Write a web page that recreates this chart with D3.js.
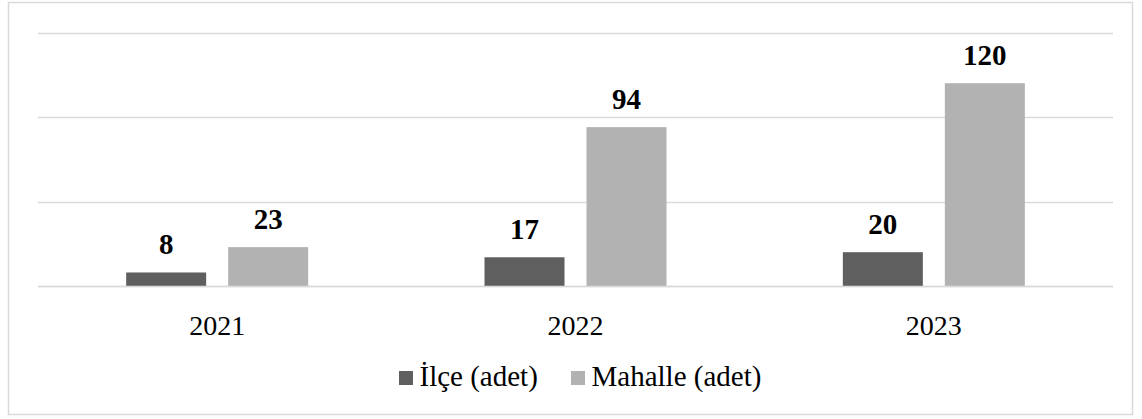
<!DOCTYPE html>
<html><head><meta charset="utf-8">
<script src="https://cdn.jsdelivr.net/npm/d3@7"></script>
<style>html,body{margin:0;padding:0;background:#fff;}svg{display:block;}
svg text{font-family:"Liberation Serif","Times New Roman",serif !important;}</style>
</head><body>
<script>
const years = ["2021", "2022", "2023"];
const seriesNames = ["İlçe (adet)", "Mahalle (adet)"];
const ilce = [8, 17, 20];
const mahalle = [23, 94, 120];
const yTicks = [0, 50, 100, 150];
const colors = ["#5f5f5f", "#b2b2b2"];

const W = 1142, H = 419;
const svg = d3.select("body").append("svg").attr("width", W).attr("height", H);

svg.append("rect").attr("x", 8.5).attr("y", 2.5).attr("width", 1124).attr("height", 412)
  .attr("fill", "#fff").attr("stroke", "#d9d9d9").attr("stroke-width", 1.5);

const left = 38, right = 1113;
const y = d3.scaleLinear().domain([0, 150]).range([286, 32.5]);
const x0 = d3.scaleBand().domain(years).range([left, right]).padding(0);
const x1 = d3.scaleBand().domain(seriesNames).range([0, 182]).paddingInner(0.2157).paddingOuter(0);

svg.append("g").selectAll("line").data(yTicks).join("line")
  .attr("x1", left).attr("x2", right)
  .attr("y1", d => Math.round(y(d)) + 0.5).attr("y2", d => Math.round(y(d)) + 0.5)
  .attr("stroke", "#d9d9d9").attr("stroke-width", 1.5);

const data = years.map((yr, i) => ({ year: yr, vals: [ilce[i], mahalle[i]] }));
const groups = svg.append("g").selectAll("g").data(data).join("g")
  .attr("transform", d => `translate(${x0(d.year) + x0.bandwidth() / 2 - 91},0)`);

groups.selectAll("rect").data(d => d.vals.map((v, k) => ({ v, k }))).join("rect")
  .attr("x", d => x1(seriesNames[d.k]))
  .attr("width", x1.bandwidth())
  .attr("y", d => y(d.v))
  .attr("height", d => y(0) - y(d.v))
  .attr("fill", d => colors[d.k]);

groups.selectAll("text").data(d => d.vals.map((v, k) => ({ v, k }))).join("text")
  .attr("x", d => x1(seriesNames[d.k]) + x1.bandwidth() / 2)
  .attr("y", d => y(d.v) - 18)
  .attr("text-anchor", "middle")
  .style("font-weight", "bold").style("font-size", "29px").attr("fill", "#000")
  .text(d => d.v);

svg.append("line").attr("x1", left).attr("x2", right).attr("y1", 286.5).attr("y2", 286.5)
  .attr("stroke", "#d9d9d9").attr("stroke-width", 1.5);

const xAxis = d3.axisBottom(x0).tickSize(0).tickPadding(0);
const gx = svg.append("g").attr("transform", "translate(0,286)").call(xAxis);
gx.select(".domain").remove();
gx.selectAll("text").style("font-size", "28px")
  .attr("fill", "#000").attr("dy", null).attr("y", 49);

const legX = [399, 571];
const leg = svg.append("g").selectAll("g").data(seriesNames).join("g")
  .attr("transform", (d, i) => `translate(${legX[i]},371)`);
leg.append("rect").attr("width", 14).attr("height", 14).attr("fill", (d, i) => colors[i]);
leg.append("text").attr("x", 20.5).attr("y", 15).style("font-size", "29px").attr("fill", "#000").text(d => d);
</script>
</body></html>
